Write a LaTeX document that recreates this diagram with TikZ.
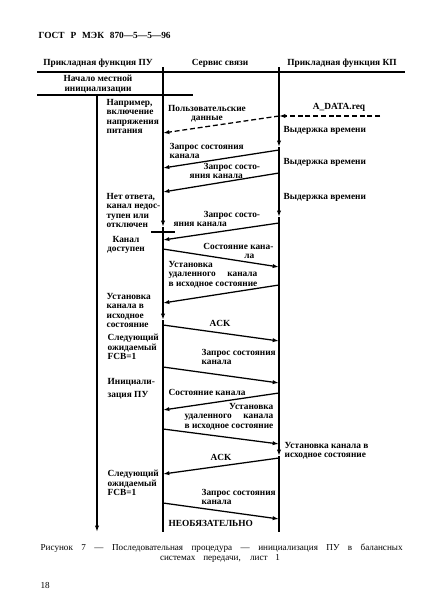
\documentclass[tikz,border=0pt]{standalone}
\usepackage{fontspec}
\setmainfont{Liberation Serif}
\usepackage{calc}
\usetikzlibrary{arrows.meta}
\usetikzlibrary{positioning}

\newcommand{\spreadas}[2]{\makebox[\widthof{#1}][s]{#2}}

\begin{document}
\begin{tikzpicture}[x=0.5mm, y=-0.5mm, line width=1.8pt,
    every node/.style={inner sep=0, font=\bfseries\fontsize{13.3}{13.5}\selectfont},
    txt/.style={anchor=north west, align=left},
    capt/.style={font=\fontsize{13}{13.5}\selectfont},
    msg/.style={-{Latex[length=9pt,width=6pt]}},
    dmsg/.style={msg, dash pattern=on 7pt off 4pt}]
    \useasboundingbox (0,0) rectangle (422,610);
    % title and column heads
    \node [anchor=west] (title) at (38,35) {\makebox[66mm][s]{ГОСТ Р МЭК 870—5—5—96}};
    \node (hpu) at (98,63) {Прикладная функция ПУ};
    \node (hss) at (220,63) {Сервис связи};
    \node (hkp) at (342,63) {Прикладная функция КП};
    \coordinate (h1) at (37,72);
    \coordinate (h2) at (405,72);
    \coordinate (h3) at (37,95);
    \coordinate (h4) at (193,95);
    \draw (h1) -- (h2);
    \draw (h3) -- (h4);
    \node [anchor=north, align=center] (init) at (98,74.5) {Начало местной\\инициализации};
    % lifelines
    \coordinate (pu0) at (97,95);
    \coordinate (pu1) at (97,532);
    \coordinate (ss0) at (163,67);
    \coordinate (ss1) at (163,227);
    \coordinate (ss2) at (163,320);
    \coordinate (ss3) at (163,532);
    \coordinate (kp0) at (279,67);
    \coordinate (kp1) at (279,147);
    \coordinate (kp2) at (279,217);
    \coordinate (kp3) at (279,456);
    \coordinate (kp4) at (279,532);
    \draw[msg] (pu0) -- (pu1);
    \draw[msg] (ss0) -- (ss1);
    \draw[msg] (ss1) -- (ss2);
    \draw (ss2) -- (ss3);
    \draw[msg] (kp0) -- (kp1);
    \draw[msg] (kp1) -- (kp2);
    \draw[msg] (kp2) -- (kp3);
    \draw (kp3) -- (kp4);
    \coordinate (t1) at (151,232);
    \coordinate (t2) at (175,232);
    \draw (t1) -- (t2);
    % user data
    \coordinate (req) at (380,116);
    \coordinate (k0) at (279,116);
    \coordinate (s0) at (163,133);
    \draw[dmsg] (req) -- (k0);
    \draw[dmsg] (k0) -- (s0);
    \node (areq) at (339,107) {A\_DATA.req};
    \node [anchor=north, align=center] (ud) at (207,104.5) {Пользовательские\\данные};
    \node [txt] (ex) at (106,98.5) {Например,\\включение\\напряжения\\питания};
    \node [anchor=west] (d1) at (283,130) {Выдержка времени};
    \node [anchor=west] (d2) at (283,162) {Выдержка времени};
    \node [anchor=west] (d3) at (283,197) {Выдержка времени};
    % messages
    \coordinate (k1) at (279,150);
    \coordinate (s1) at (163,168);
    \coordinate (k2) at (279,173);
    \coordinate (s2) at (163,192);
    \coordinate (k3) at (279,223);
    \coordinate (s3) at (163,240);
    \coordinate (s4) at (163,249);
    \coordinate (k4) at (279,267);
    \coordinate (k5) at (279,285);
    \coordinate (s5) at (163,303);
    \coordinate (s6) at (163,325);
    \coordinate (k6) at (279,341);
    \coordinate (s7) at (163,367);
    \coordinate (k7) at (279,383);
    \coordinate (k8) at (279,393);
    \coordinate (s8) at (163,410);
    \coordinate (s9) at (163,429);
    \coordinate (k9) at (279,444);
    \coordinate (k10) at (279,458);
    \coordinate (s10) at (163,474);
    \coordinate (s11) at (163,503);
    \coordinate (k11) at (279,519);
    \draw[msg] (k1) -- (s1);
    \draw[msg] (k2) -- (s2);
    \draw[msg] (k3) -- (s3);
    \draw[msg] (s4) -- (k4);
    \draw[msg] (k5) -- (s5);
    \draw[msg] (s6) -- (k6);
    \draw[msg] (s7) -- (k7);
    \draw[msg] (k8) -- (s8);
    \draw[msg] (s9) -- (k9);
    \draw[msg] (k10) -- (s10);
    \draw[msg] (s11) -- (k11);
    % labels
    \node [txt] (q1) at (169,142.5) {Запрос состояния\\канала};
    \node [txt] (q2) at (203,162.5) {Запрос состо-\\\hspace*{-7mm}яния канала};
    \node [txt] (noans) at (106,192.5) {Нет ответа,\\канал недос-\\тупен или\\отключен};
    \node [txt] (q3) at (203,210.5) {Запрос состо-\\\hspace*{-15mm}яния канала};
    \node [anchor=north, align=center] (avail) at (126,235.5) {Канал\\доступен};
    \node [anchor=north east, align=right] (st1) at (274,242.5) {Состояние кана-\\ла\hspace*{9.5mm}};
    \node [txt] (rs1) at (168,260.5) {Установка\\\spreadas{в исходное состояние}{удаленного канала}\\в исходное состояние};
    \node [txt] (set1) at (106,292.5) {Установка\\канала в\\исходное\\состояние};
    \node (ack1) at (220,323) {ACK};
    \node [txt] (nx1) at (107,333.5) {Следующий\\ожидаемый\\FCB=1};
    \node [txt] (q4) at (201,348.5) {Запрос состояния\\канала};
    \node [txt] (ini) at (107,377.5) {Инициали-\\[2mm]зация ПУ};
    \node [anchor=west] (st2) at (168,392) {Состояние канала};
    \node [anchor=north east, align=right] (rs2) at (274,402.5) {Установка\\\spreadas{в исходное состояние}{удаленного канала}\\в исходное состояние};
    \node [txt] (set2) at (284,441.5) {Установка канала в\\исходное состояние};
    \node (ack2) at (221,457) {ACK};
    \node [txt] (nx2) at (107,469.5) {Следующий\\ожидаемый\\FCB=1};
    \node [txt] (q5) at (201,488.5) {Запрос состояния\\канала};
    \node [anchor=west] (opt) at (168,523) {НЕОБЯЗАТЕЛЬНО};
    % caption
    \node [anchor=west, capt] (cap1) at (40,548) {\makebox[181mm][s]{Рисунок 7 — Последовательная процедура — инициализация ПУ в балансных}};
    \node [capt] (cap2) at (220,558) {\makebox[60mm][s]{системах передачи, лист 1}};
    \node [anchor=west, capt] (page) at (40,585) {18};
\end{tikzpicture}
\end{document}
